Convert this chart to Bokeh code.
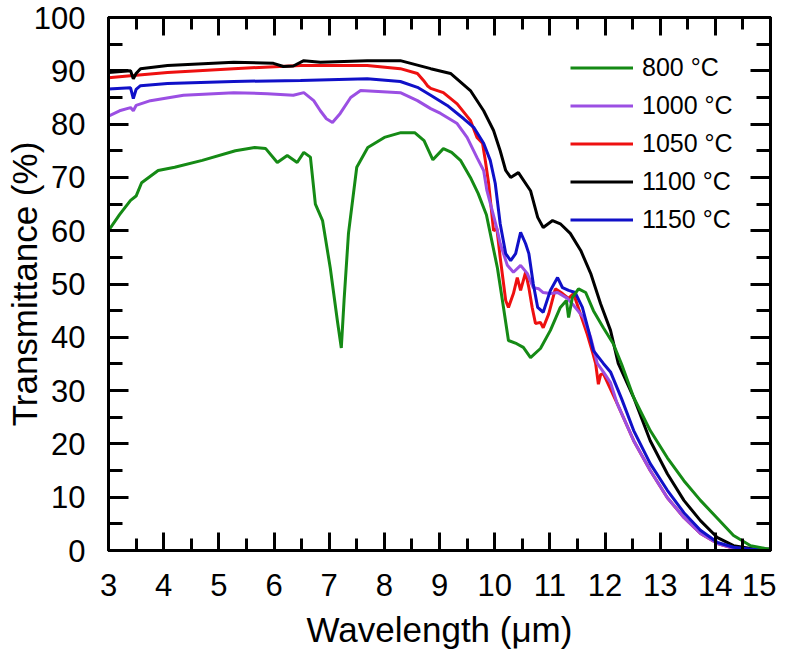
from bokeh.plotting import figure
from bokeh.models import (Range1d, LinearAxis, SingleIntervalTicker, Legend, LegendItem,
                          CustomJSTickFormatter)
from bokeh.embed import file_html
from bokeh.resources import INLINE

# ---- data ----
labels = ["800 °C", "1000 °C", "1050 °C", "1100 °C", "1150 °C"]
colors = ["#158a15", "#9b4fe3", "#ee1010", "#000000", "#1010c8"]

x_800 = [3.0, 3.2, 3.4, 3.5, 3.6, 3.9, 4.2, 4.7, 5.3, 5.65, 5.85, 6.06, 6.24, 6.42, 6.54, 6.66, 6.75, 6.88,
         7.02, 7.15, 7.22, 7.27, 7.35, 7.5, 7.7, 8.0, 8.3, 8.55, 8.72, 8.88, 9.07, 9.22, 9.38, 9.56, 9.7,
         9.85, 9.95, 10.05, 10.16, 10.25, 10.4, 10.52, 10.65, 10.83, 11.01, 11.19, 11.3, 11.34, 11.41,
         11.52, 11.65, 11.79, 11.97, 12.15, 12.3, 12.52, 12.82, 13.13, 13.43, 13.73, 14.04, 14.33, 14.64,
         14.94, 15.0]
y_800 = [60, 63, 65.7, 66.5, 69, 71.3, 71.9, 73.2, 75, 75.6, 75.4, 72.8, 74.1, 72.8, 74.7, 73.8, 65, 61.9,
         53, 43, 38, 46.9, 59.5, 71.9, 75.6, 77.5, 78.4, 78.4, 76.9, 73.3, 75.4, 74.7, 73.2, 70, 67,
         63, 58, 53, 45.6, 39.4, 38.8, 38.1, 36.2, 37.9, 41.3, 45.6, 46.9, 43.7, 47.5,
         49.1, 48.4, 45, 41.8, 38.8, 35, 28.7, 22.5, 17.4, 13.1, 9.4, 6, 2.8, 0.9,
         0.3, 0.3]

x_1000 = [3.0, 3.2, 3.4, 3.45, 3.5, 3.76, 4.36, 5.27, 5.88, 6.35, 6.54, 6.72, 6.84, 6.95, 7.06, 7.2, 7.39,
          7.57, 8.29, 8.6, 8.84, 9.02, 9.32, 9.5, 9.68, 9.8, 9.86, 9.95, 10.05, 10.1, 10.23, 10.34, 10.47,
          10.59, 10.7, 10.8, 10.88, 11.01, 11.14, 11.32, 11.43, 11.61, 11.74, 11.86, 11.97, 12.1, 12.22,
          12.52, 12.82, 13.13, 13.43, 13.73, 14.04, 14.33, 14.7, 15.0]
y_1000 = [81.5, 82.5, 83.1, 82.5, 83.5, 84.4, 85.4, 85.9, 85.7, 85.4, 85.9, 84.4, 82.5, 81, 80.3, 82, 85,
          86.3, 85.9, 84.4, 82.9, 82, 80.1, 77.5, 73.7, 71.3, 67.5, 64, 60, 57.6, 53.5, 52.2, 53.5,
          52, 49.3, 49.1, 48.4, 48.2, 48.4, 47.3, 46, 43.7, 40, 35.1, 33.5, 31.5, 27.6,
          20.6, 15, 9.9, 6.2, 3.2, 1.3, 0.4, 0.2, 0.2]

x_1050 = [3.0, 3.45, 4.07, 5.27, 6.48, 7.69, 8.29, 8.6, 8.71, 8.78, 8.84, 9.07, 9.32, 9.56, 9.68, 9.78,
          9.83, 9.89, 9.94, 9.98, 10.04, 10.1, 10.2, 10.25, 10.34, 10.41, 10.47, 10.56, 10.62, 10.68,
          10.74, 10.83, 10.88, 10.98, 11.1, 11.23, 11.34, 11.43, 11.55, 11.68, 11.78, 11.83, 11.88,
          11.92, 11.97, 12.22, 12.52, 12.82, 13.13, 13.43, 13.73, 14.04, 14.33, 14.7, 15.0]
y_1050 = [88.7, 89.1, 89.7, 90.4, 91, 91, 90.4, 89.5, 88.2, 87.2, 86.7, 85.9, 83.8, 80.7, 77.5, 76.4,
          73.2, 68.9, 64, 60, 60.4, 55, 46.9, 45.6, 48.2, 51.2, 48.8, 52.2, 49.3, 45.6,
          42.6, 42.8, 41.8, 44.4, 49.1, 48.2, 47.3, 48.2, 44.5, 40.5, 37, 35.1, 31.2,
          33, 33.2, 27.6, 20.6, 15, 9.9, 6.2, 3.2, 1.3, 0.4, 0.2, 0.2]

x_1100 = [3.0, 3.4, 3.45, 3.5, 3.58, 4.07, 5.27, 5.99, 6.17, 6.35, 6.54, 6.84, 7.69, 8.29, 8.84, 9.2,
          9.56, 9.8, 9.98, 10.1, 10.2, 10.29, 10.43, 10.65, 10.78, 10.88, 11.05, 11.19, 11.37, 11.56,
          11.74, 11.92, 12.1, 12.24, 12.52, 12.82, 13.13, 13.43, 13.73, 14.04, 14.33, 14.7, 15.0]
y_1100 = [89.7, 90, 88.5, 89.5, 90.4, 91, 91.6, 91.4, 90.8, 90.9, 91.9, 91.6, 91.9, 91.9, 90.4, 89.5,
          86.3, 82.5, 78.8, 75, 71.3, 70, 70.9, 67.5, 62.5, 60.6, 61.9, 61.3, 59.5, 56.3,
          52, 46.3, 41.3, 35.1, 28.7, 20.6, 14.4, 9.4, 5.6, 2.4, 0.9, 0.3, 0.3]

x_1150 = [3.0, 3.4, 3.45, 3.5, 3.58, 4.07, 5.27, 6.48, 7.69, 8.29, 8.6, 8.84, 9.14, 9.44, 9.62, 9.8,
          9.92, 10.01, 10.1, 10.2, 10.29, 10.38, 10.47, 10.56, 10.62, 10.7, 10.78, 10.88, 11.01, 11.14,
          11.23, 11.34, 11.46, 11.59, 11.7, 11.79, 11.97, 12.1, 12.3, 12.52, 12.82, 13.13, 13.43, 13.73,
          14.04, 14.33, 14.7, 15.0]
y_1150 = [86.6, 86.8, 84.8, 86.5, 87.2, 87.6, 88, 88.2, 88.5, 88, 86.9, 85.4, 83.5, 81, 79.4, 76.4,
          73.2, 68.9, 61.3, 55.7, 54.4, 55.7, 59.7, 57.6, 55.7, 50, 45.6, 44.7, 48.8, 51.2,
          49.3, 48.8, 48.4, 45.6, 41.3, 37.5, 35.1, 33.5, 28.5, 22.5, 16.3, 11.3, 7.1, 3.8,
          1.5, 0.6, 0.2, 0.2]

x_ticks_interval = 1
y_ticks_interval = 10

FONT = "Liberation Sans"

p = figure(width=776, height=653, x_range=Range1d(3, 15), y_range=Range1d(0, 100),
           output_backend="svg", toolbar_location=None,
           min_border_left=108, min_border_right=6, min_border_top=17, min_border_bottom=103)
p.grid.visible = False
p.outline_line_color = "black"
p.outline_line_width = 3
p.background_fill_color = "white"
p.border_fill_color = "white"

bottom_axis = p.below[0]
left_axis = p.left[0]
bottom_axis.axis_label = "Wavelength (μm)"
left_axis.axis_label = "Transmittance (%)"

top_axis = LinearAxis(formatter=CustomJSTickFormatter(code="return ''"))
right_axis = LinearAxis(formatter=CustomJSTickFormatter(code="return ''"))
p.add_layout(top_axis, "above")
p.add_layout(right_axis, "right")

for ax in [bottom_axis, top_axis]:
    ax.ticker = SingleIntervalTicker(interval=x_ticks_interval, num_minor_ticks=2)
    ax.major_tick_in = 18
    ax.minor_tick_in = 12
for ax in [left_axis, right_axis]:
    ax.ticker = SingleIntervalTicker(interval=y_ticks_interval, num_minor_ticks=2)
    ax.major_tick_in = 20
    ax.minor_tick_in = 14

for ax in [bottom_axis, left_axis, top_axis, right_axis]:
    ax.major_tick_out = 0
    ax.minor_tick_out = 0
    ax.axis_line_width = 3
    ax.major_tick_line_width = 3
    ax.minor_tick_line_width = 3
    ax.axis_line_color = "black"
    ax.major_tick_line_color = "black"
    ax.minor_tick_line_color = "black"
    ax.major_label_text_font = FONT
    ax.major_label_text_color = "black"
    ax.axis_label_text_font = FONT
    ax.axis_label_text_font_style = "normal"
    ax.axis_label_text_color = "black"

for ax in [top_axis, right_axis]:
    ax.major_label_standoff = 0
    ax.major_label_text_font_size = "1px"

bottom_axis.major_label_text_font_size = "31px"
left_axis.major_label_text_font_size = "31px"
bottom_axis.major_label_standoff = 23
left_axis.major_label_standoff = 23
bottom_axis.axis_label_text_font_size = "35px"
left_axis.axis_label_text_font_size = "35px"
bottom_axis.axis_label_standoff = 11
left_axis.axis_label_standoff = -13

series = [(x_800, y_800), (x_1000, y_1000), (x_1050, y_1050), (x_1100, y_1100), (x_1150, y_1150)]
renderers = {}
for idx in [2, 1, 3, 4, 0]:
    xs, ys = series[idx]
    renderers[idx] = p.line(xs, ys, line_color=colors[idx], line_width=3)

items = [LegendItem(label=labels[i], renderers=[renderers[i]]) for i in range(5)]
legend = Legend(items=items, location=(462, 316), border_line_color=None,
                background_fill_alpha=0, label_text_font=FONT, label_text_font_size="25px",
                label_text_color="black", glyph_width=63, glyph_height=29, label_height=29,
                label_standoff=9, spacing=9, padding=0, margin=0)
p.add_layout(legend)

open("out.html", "w").write(file_html(p, INLINE))
